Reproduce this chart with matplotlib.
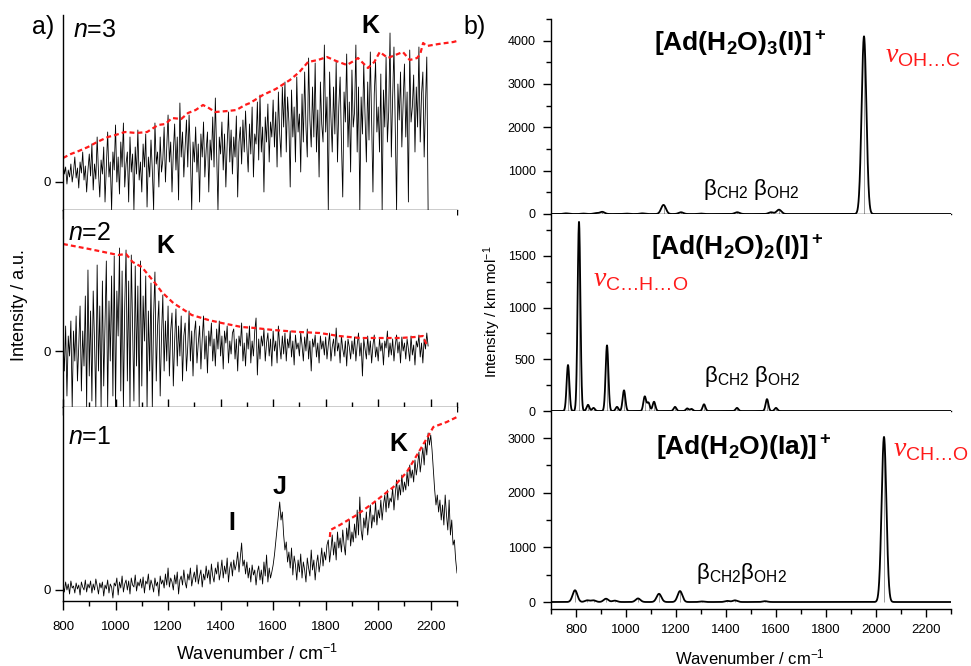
import numpy as np
import matplotlib
matplotlib.use('Agg')
import matplotlib.pyplot as plt
from matplotlib.ticker import MultipleLocator

plt.rcParams['font.family'] = ['Liberation Sans', 'DejaVu Sans']
plt.rcParams['mathtext.fontset'] = 'custom'
plt.rcParams['mathtext.rm'] = 'Liberation Sans'
plt.rcParams['mathtext.bf'] = 'Liberation Sans:bold'
plt.rcParams['mathtext.it'] = 'Liberation Serif:italic'
plt.rcParams['mathtext.sf'] = 'Liberation Sans:italic'
plt.rcParams['mathtext.default'] = 'regular'

# ---------------- experimental spectra (a.u., 5 cm-1 steps) ----------------
exp_n3_start, exp_n3_stop = 800, 2190
exp_n3 = [
    22, 8, 15, -2, 12, 5, 18, 0, 10, 25,
    4, 14, -6, 20, 9, 30, 2, 16, -10, 12,
    28, 6, 38, -8, 18, 3, 45, 10, -15, 22,
    8, 35, -20, 14, 50, 5, 20, -28, 30, 12,
    57, 0, 25, -12, 40, 15, 59, -5, 18, 30,
    -20, 45, 10, 28, -28, 35, 8, 52, 2, 20,
    -10, 38, 15, 48, -25, 25, 5, 42, 12, -28,
    59, 18, 30, -5, 45, 10, 22, 55, 0, 35,
    67, 20, 40, -10, 30, 58, 12, 45, -18, 79,
    25, 50, 5, 35, 62, 15, 67, 28, -28, 40,
    20, 55, 10, 38, -20, 48, 25, 60, 5, 32,
    50, -10, 42, 22, 65, 15, 84, 30, -28, 45,
    28, 60, 12, 48, -5, 38, 70, 20, 52, 8,
    45, 25, 66, -15, 40, 55, 18, 62, 30, 71,
    35, 10, 58, 28, 75, 5, 48, 38, 80, 22,
    87, 30, 55, -10, 65, 40, 78, 20, 60, 45,
    82, 35, 70, 15, 90, 48, 25, 95, 55, 100,
    30, 85, 60, -5, 92, 45, 75, 20, 105, 50,
    68, 10, 88, 40, 110, 55, 25, 124, 62, 35,
    95, 45, 119, 30, 72, 5, 100, 58, 40, 137,
    50, 85, -28, 110, 65, 30, 95, 48, 120, 20,
    75, 105, 40, -15, 90, 60, 128, 35, 80, 10,
    112, 55, 70, 137, 30, 95, -28, 85, 48, 118,
    65, 20, 100, 42, 130, 60, -10, 88, 120, 50,
    75, 30, 108, -28, 92, 55, 125, 40, 70, 149,
    25, 85, 135, 50, -28, 98, 62, 110, 35, 80,
    118, 45, 90, -20, 132, 60, 75, 107, 30, 95,
    55, 135, 40, 88, 110, 25, 78, 125, -28,
]
env_n3_x = [800, 830, 860, 895, 930, 971, 1000, 1036, 1080, 1120,
            1162, 1190, 1215, 1250, 1276, 1305, 1333, 1355, 1379, 1428,
            1460, 1493, 1512, 1561, 1610, 1664, 1700, 1733, 1770, 1805,
            1840, 1881, 1900, 1923, 1961, 1985, 2006, 2037, 2065, 2094,
            2120, 2148, 2160, 2171, 2185, 2230, 2286, 2300]
env_n3_y = [24, 28, 31, 35, 40, 45, 47, 50, 49, 50,
            57, 58, 64, 63, 69, 72, 77, 74, 70, 71,
            72, 77, 79, 87, 93, 102, 110, 120, 122, 125,
            121, 117, 120, 124, 114, 120, 130, 124, 127, 130,
            122, 124, 128, 139, 136, 138, 140, 141]

exp_n2_start, exp_n2_stop = 800, 2190
exp_n2 = [
    10, -20, 25, -45, 15, -5, 30, -56, 20, -10,
    35, -30, 5, 45, -40, 20, -15, 55, -56, 81,
    -25, 40, -50, 60, 10, -56, 86, -20, 45, -56,
    70, -35, 25, 90, -56, 50, -10, 75, -45, 95,
    -56, 60, 15, 103, -40, 80, -56, 45, 101, -30,
    70, -56, 96, 20, -50, 85, -15, 65, -56, 90,
    -35, 55, 10, 75, -56, 40, -20, 68, -56, 35,
    79, -30, 25, 50, -45, 15, 56, -20, 30, -10,
    45, -25, 20, 38, -35, 10, 42, -15, 25, -5,
    35, -30, 15, 28, -20, 5, 40, -10, 20, -25,
    18, 30, -12, 8, 25, -18, 12, 35, -8, 15,
    -22, 20, 5, 28, -10, 12, -15, 22, 2, 30,
    -5, 15, -18, 20, 8, 25, -12, 10, -3, 18,
    22, -8, 12, -20, 15, 5, 28, -10, 8, -15,
    18, 2, 25, -12, 10, -5, 20, 33, -24, 12,
    -8, 15, 5, 22, -10, 8, 18, -5, 12, -15,
    20, 0, 10, -12, 25, 5, -8, 15, -3, 18,
    -10, 12, 3, 20, -6, 10, -14, 16, 2, 8,
    -5, 18, 6, -10, 14, 0, 22, -8, 10, -20,
    12, 4, 16, -6, 8, -12, 15, 2, 10, -4,
    14, -8, 6, 18, -10, 4, 12, -5, 23, 0,
    8, -12, 15, 2, -6, 10, -15, 12, 4, -8,
    10, -3, 14, -10, 6, 18, -5, 8, -25, 12,
    2, -8, 15, -4, 10, -12, 6, 16, -6, 4,
    -10, 12, 0, 8, -14, 10, 3, 20, -6, 8,
    -4, 12, -10, 6, 16, -2, 9, -12, 14, 0,
    8, -8, 12, 2, -10, 15, -4, 6, -14, 10,
    4, 16, -6, 8, -12, 12, 2, 18, 5,
]
env_n2_x = [800, 900, 1010, 1040, 1065, 1100, 1150, 1176, 1220, 1290,
            1354, 1404, 1480, 1531, 1600, 1700, 1778, 1850, 1930, 2000,
            2083, 2140, 2170, 2185]
env_n2_y = [107, 102, 96, 97, 89, 84, 68, 59, 48, 36,
            31, 28, 24, 23, 21, 19, 18, 15, 13, 13,
            13, 14, 15, 6]

exp_n1_start, exp_n1_stop = 800, 2300
exp_n1 = [
    5, -2, 8, 0, 6, -4, 9, 2, 4, -3,
    7, 1, 5, -5, 8, 3, 0, 10, -2, 6,
    2, 9, -3, 6, 0, 11, 4, -4, 7, 2,
    8, -6, 5, 1, 10, -3, 6, 3, -8, 7,
    4, 12, -5, 8, 2, 14, -2, 6, 10, 0,
    9, -4, 12, 5, 3, 15, -1, 8, 4, 11,
    2, 13, -3, 9, 6, 16, 0, 10, 5, -2,
    12, 4, 8, -6, 14, 6, 10, 2, 16, 5,
    22, 3, 12, 8, 0, 15, 6, 18, -4, 10,
    14, 5, 20, 8, 2, 16, 10, 22, 4, 12,
    18, 8, 25, 6, 14, 20, 3, 16, 10, 24,
    12, 20, 6, 26, 14, 8, 22, 16, 28, 10,
    18, 30, 12, 24, 16, 32, 8, 22, 28, 14,
    30, 20, 26, 38, 18, 33, 47, 24, 30, 16,
    28, 12, 22, 8, 25, 15, 20, 5, 18, 24,
    10, 20, 6, 28, 14, 35, 8, 22, 12, 18,
    25, 35, 48, 62, 75, 88, 70, 78, 55, 40,
    48, 28, 38, 22, 42, 15, 34, 25, 10, 30,
    18, 36, 12, 28, 20, 8, 32, 22, 14, 40,
    20, 30, 10, 26, 35, 18, 28, 42, 24, 38,
    30, 45, 50, 28, 40, 55, 35, 48, 30, 58,
    42, 52, 38, 60, 45, 35, 62, 50, 70, 44,
    58, 48, 66, 52, 80, 55, 93, 60, 50, 72,
    62, 78, 55, 70, 85, 62, 75, 68, 88, 65,
    80, 72, 90, 70, 85, 95, 78, 100, 82, 92,
    88, 102, 80, 96, 110, 90, 105, 95, 115, 98,
    108, 100, 118, 104, 125, 112, 120, 108, 130, 115,
    125, 138, 118, 130, 142, 125, 148, 135, 157, 145,
    155, 140, 120, 100, 85, 95, 78, 90, 70, 85,
    65, 95, 75, 60, 90, 55, 70, 45, 50, 30,
    17,
]
env_n1_x = [1816, 1818, 1854, 1918, 1981, 2058, 2109, 2159, 2197, 2210, 2261, 2300]
env_n1_y = [53, 60, 65, 75, 87, 103, 118, 140, 157, 163, 168, 173]

# ---------------- computed stick spectra (km mol-1) ----------------
calc3_pos = [760, 830, 880, 905, 1000, 1065, 1150, 1220, 1300, 1445, 1580, 1612, 1952]
calc3_int = [15, 10, 20, 50, 10, 15, 210, 40, 10, 40, 40, 100, 4100]
calc2_pos = [768, 812, 848, 870, 924, 964, 992, 1075, 1090, 1112, 1196, 1245, 1262,
             1312, 1444, 1564, 1600]
calc2_int = [445, 1830, 60, 30, 635, 40, 200, 140, 80, 90, 40, 25, 20, 65, 30, 115, 30]
calc1_pos = [796, 845, 870, 920, 955, 1048, 1132, 1216, 1304, 1405, 1436, 1556, 2032]
calc1_int = [215, 30, 30, 60, 25, 65, 150, 200, 10, 20, 30, 15, 3020]
calc_sigma = [9.5, 5.5, 9.5]

W, H = 971, 666
fig = plt.figure(figsize=(W / 100, H / 100), dpi=100)


def box(x0, y0, x1, y1):
    return [x0 / W, 1 - y1 / H, (x1 - x0) / W, (y1 - y0) / H]


def ftext(px, py, s, **kw):
    fig.text(px / W, 1 - py / H, s, **kw)


TICK_FS = 9.5
RED = '#ff1a1a'

# ---------------- panel a ----------------
left_specs = [
    (box(63, 15, 457, 210), exp_n3, exp_n3_start, exp_n3_stop, env_n3_x, env_n3_y, (-28, 167), 'out'),
    (box(63, 210, 457, 407), exp_n2, exp_n2_start, exp_n2_stop, env_n2_x, env_n2_y, (-56, 141), 'inout'),
    (box(63, 407, 457, 601), exp_n1, exp_n1_start, exp_n1_stop, env_n1_x, env_n1_y, (-11, 183), 'out'),
]
for i, (rect, ys, x0, x1, ex, ey, ylim, tdir) in enumerate(left_specs):
    ax = fig.add_axes(rect)
    xs = np.arange(x0, x1 + 1, 5)
    ax.plot(xs, ys, color='black', lw=0.6)
    ax.plot(ex, ey, color=RED, lw=1.6, ls=(0, (2.2, 1.4)))
    ax.set_xlim(800, 2300)
    ax.set_ylim(*ylim)
    for s in ('top', 'right'):
        ax.spines[s].set_visible(False)
    for s in ('left', 'bottom'):
        ax.spines[s].set_linewidth(1.0)
    ax.set_yticks([0])
    ax.tick_params(axis='y', direction='out', length=6, width=1.0, pad=3,
                   labelsize=TICK_FS)
    ax.xaxis.set_major_locator(MultipleLocator(200))
    ax.xaxis.set_minor_locator(MultipleLocator(100))
    big = 12 if tdir == 'inout' else 6.5
    ax.tick_params(axis='x', which='major', direction=tdir, length=big, width=1.0,
                   labelsize=TICK_FS, pad=8, labelbottom=(i == 2))
    ax.tick_params(axis='x', which='minor', direction=tdir, length=big * 0.6, width=1.0)

ftext(32, 27, 'a)', fontsize=18, ha='left', va='center')
ftext(73, 30, r'$\mathsf{n}$=3', fontsize=18, ha='left', va='center')
ftext(68, 233, r'$\mathsf{n}$=2', fontsize=18, ha='left', va='center')
ftext(68, 437, r'$\mathsf{n}$=1', fontsize=18, ha='left', va='center')
ftext(370, 26, 'K', fontsize=18, fontweight='bold', ha='center', va='center')
ftext(165, 246, 'K', fontsize=18, fontweight='bold', ha='center', va='center')
ftext(398, 444, 'K', fontsize=18, fontweight='bold', ha='center', va='center')
ftext(280, 487, 'J', fontsize=18, fontweight='bold', ha='center', va='center')
ftext(232, 523, 'I', fontsize=18, fontweight='bold', ha='center', va='center')
ftext(20, 305, 'Intensity / a.u.', fontsize=13, rotation=90, ha='center', va='center')
ftext(257, 654, 'Wavenumber / cm$^{-1}$', fontsize=13, ha='center', va='center')

# ---------------- panel b ----------------
grid = np.linspace(700, 2300, 3201)
right_specs = [
    (box(551, 19, 951, 214), calc3_pos, calc3_int, calc_sigma[0], (0, 4500), 1000, 500),
    (box(551, 214, 951, 411), calc2_pos, calc2_int, calc_sigma[1], (0, 1906), 500, 250),
    (box(551, 411, 951, 609), calc1_pos, calc1_int, calc_sigma[2], (-128, 3494), 1000, 500),
]
for i, (rect, pos, inten, sig, ylim, maj, mnr) in enumerate(right_specs):
    ax = fig.add_axes(rect)
    pos = np.asarray(pos, float)
    inten = np.asarray(inten, float)
    curve = (inten[:, None] * np.exp(-0.5 * ((grid[None, :] - pos[:, None]) / sig) ** 2)).sum(axis=0)
    ax.vlines(pos, 0, inten, color='#8c8c8c', lw=0.6)
    ax.plot(grid, curve, color='black', lw=1.3)
    ax.set_xlim(700, 2300)
    ax.set_ylim(*ylim)
    for s in ('top', 'right'):
        ax.spines[s].set_visible(False)
    for s in ('left', 'bottom'):
        ax.spines[s].set_linewidth(1.0)
    ax.yaxis.set_major_locator(MultipleLocator(maj))
    ax.yaxis.set_minor_locator(MultipleLocator(mnr))
    ax.tick_params(axis='y', which='major', direction='out', length=6, width=1.0,
                   labelsize=9, pad=5)
    ax.tick_params(axis='y', which='minor', direction='out', length=3.5, width=1.0)
    if i == 2:
        ax.set_xticks(np.arange(800, 2201, 200))
        ax.xaxis.set_minor_locator(MultipleLocator(100))
        ax.tick_params(axis='x', which='major', direction='out', length=6, width=1.0,
                       labelsize=TICK_FS, pad=5)
        ax.tick_params(axis='x', which='minor', direction='out', length=3.5, width=1.0)
    else:
        ax.set_xticks([])
        ax.tick_params(axis='x', which='both', bottom=False, labelbottom=False)

ftext(463, 27, 'b)', fontsize=18, ha='left', va='center')
ftext(740, 43, r'$\mathbf{[Ad(H_2O)_3(I)]^+}$', fontsize=19, ha='center', va='center')
ftext(737, 247, r'$\mathbf{[Ad(H_2O)_2(I)]^+}$', fontsize=19, ha='center', va='center')
ftext(744, 447, r'$\mathbf{[Ad(H_2O)(Ia)]^+}$', fontsize=19, ha='center', va='center')
ftext(885, 56, r'$\mathit{\nu}_{\mathrm{OH…C}}$', fontsize=20, color=RED, ha='left', va='center')
ftext(593, 280, r'$\mathit{\nu}_{\mathrm{C…H…O}}$', fontsize=20, color=RED, ha='left', va='center')
ftext(893, 450, r'$\mathit{\nu}_{\mathrm{CH…O}}$', fontsize=20, color=RED, ha='left', va='center')
ftext(703, 190, r'$\beta_{\mathrm{CH2}}\ \beta_{\mathrm{OH2}}$', fontsize=16, ha='left', va='center')
ftext(704, 377, r'$\beta_{\mathrm{CH2}}\ \beta_{\mathrm{OH2}}$', fontsize=16, ha='left', va='center')
ftext(696, 574, r'$\beta_{\mathrm{CH2}}\beta_{\mathrm{OH2}}$', fontsize=16, ha='left', va='center')
ftext(492, 312, 'Intensity / km mol$^{-1}$', fontsize=11, rotation=90, ha='center', va='center')
ftext(750, 657, 'Wavenumber / cm$^{-1}$', fontsize=12, ha='center', va='center')

fig.savefig('out.png', dpi=100)
